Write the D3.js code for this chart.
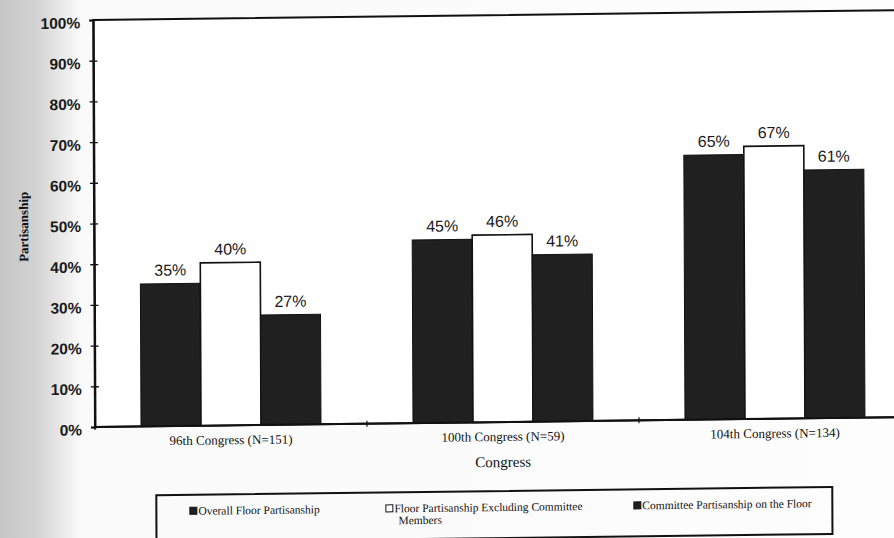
<!DOCTYPE html>
<html>
<head>
<meta charset="utf-8">
<script src="https://cdn.jsdelivr.net/npm/d3@7"></script>
<style>
  html, body { margin: 0; padding: 0; background: #fdfdfd; }
  svg { display: block; }
</style>
</head>
<body>
<svg id="chart" width="894" height="538"></svg>
<script>
// Congress groups and the three partisanship series
const congresses = ["96th Congress (N=151)", "100th Congress (N=59)", "104th Congress (N=134)"];
const seriesNames = [
  "Overall Floor Partisanship",
  "Floor Partisanship Excluding Committee Members",
  "Committee Partisanship on the Floor"
];
const overallFloor = [0.35, 0.45, 0.65];
const floorExclCommittee = [0.40, 0.46, 0.67];
const committeeOnFloor = [0.27, 0.41, 0.61];
const yTicks = [0, 0.1, 0.2, 0.3, 0.4, 0.5, 0.6, 0.7, 0.8, 0.9, 1.0];

const seriesValues = [overallFloor, floorExclCommittee, committeeOnFloor];
const seriesFill = ["#202020", "#ffffff", "#202020"];

const svg = d3.select("#chart");

// paper tone: darker strip along the binding edge
const defs = svg.append("defs");
const grad = defs.append("linearGradient").attr("id", "paper").attr("x1", 0).attr("x2", 1).attr("y1", 0).attr("y2", 0);
grad.append("stop").attr("offset", "0").attr("stop-color", "#c6c6c6");
grad.append("stop").attr("offset", "0.04").attr("stop-color", "#d2d2d2");
grad.append("stop").attr("offset", "0.065").attr("stop-color", "#e6e6e6");
grad.append("stop").attr("offset", "0.09").attr("stop-color", "#fafafa");
grad.append("stop").attr("offset", "1").attr("stop-color", "#fdfdfd");
svg.append("rect").attr("width", 894).attr("height", 538).attr("fill", "url(#paper)");

// the printed page sits slightly askew
const g = svg.append("g")
  .attr("transform", "translate(95,427) rotate(-0.25) skewY(-0.45) translate(-95,-427)");

const plotLeft = 95, plotRight = 911, plotTop = 20, plotBottom = 427;

const x = d3.scaleBand().domain(congresses).range([plotLeft, plotRight]).padding(0);
const xs = d3.scaleBand().domain(d3.range(seriesNames.length))
  .range([0, x.bandwidth()]).paddingInner(0).paddingOuter(0.767);
const y = d3.scaleLinear().domain([0, 1]).range([plotBottom, plotTop]);

// plot frame
g.append("rect")
  .attr("x", plotLeft).attr("y", plotTop)
  .attr("width", plotRight - plotLeft).attr("height", plotBottom - plotTop)
  .attr("fill", "#ffffff").attr("stroke", "#111").attr("stroke-width", 2);

// bars
congresses.forEach((c, ci) => {
  seriesValues.forEach((vals, si) => {
    const v = vals[ci];
    g.append("rect")
      .attr("x", x(c) + xs(si))
      .attr("y", y(v))
      .attr("width", xs.bandwidth())
      .attr("height", y(0) - y(v))
      .attr("fill", seriesFill[si])
      .attr("stroke", "#111")
      .attr("stroke-width", si === 1 ? 1.6 : 1);
    g.append("text")
      .attr("x", x(c) + xs(si) + xs.bandwidth() / 2)
      .attr("y", y(v) - 8)
      .attr("text-anchor", "middle")
      .attr("font-family", "Liberation Sans, Arial, sans-serif")
      .attr("font-size", 16)
      .attr("fill", "#1a1a1a")
      .text(d3.format(".0%")(v));
  });
});

// y axis
const yAxis = g.append("g").attr("transform", `translate(${plotLeft},0)`)
  .call(d3.axisLeft(y).tickValues(yTicks).tickFormat(d3.format(".0%")).tickSize(4).tickPadding(10));
yAxis.select(".domain").attr("stroke", "#111").attr("stroke-width", 2);
yAxis.selectAll(".tick line").attr("stroke", "#111").attr("stroke-width", 1.3).attr("x2", 4).attr("x1", -4);
yAxis.selectAll(".tick text")
  .attr("font-family", "Liberation Sans, Arial, sans-serif")
  .attr("font-size", 15.5).attr("font-weight", "bold").attr("fill", "#1a1a1a")
  .attr("dy", "0.5em").attr("x", -13);

// x axis: ticks on the band boundaries, labels under band centres
const xAxis = g.append("g").attr("transform", `translate(0,${plotBottom})`);
xAxis.append("line").attr("x1", plotLeft).attr("x2", plotRight).attr("stroke", "#111").attr("stroke-width", 2);
x.domain().forEach(c => {
  xAxis.append("line").attr("x1", x(c)).attr("x2", x(c)).attr("y1", -3).attr("y2", 3)
    .attr("stroke", "#111").attr("stroke-width", 1.2);
  xAxis.append("text")
    .attr("x", x(c) + x.bandwidth() / 2).attr("y", 19)
    .attr("text-anchor", "middle")
    .attr("font-family", "Liberation Serif, Times New Roman, serif")
    .attr("font-size", 13).attr("fill", "#111")
    .text(c);
});

// axis titles
g.append("text")
  .attr("x", (plotLeft + plotRight) / 2).attr("y", 472)
  .attr("text-anchor", "middle")
  .attr("font-family", "Liberation Serif, Times New Roman, serif")
  .attr("font-size", 15).attr("fill", "#111")
  .text("Congress");
g.append("text")
  .attr("transform", "translate(29,226) rotate(-90)")
  .attr("text-anchor", "middle")
  .attr("font-family", "Liberation Serif, Times New Roman, serif")
  .attr("font-size", 13).attr("font-weight", "bold").attr("fill", "#111")
  .text("Partisanship");

// legend
const legend = g.append("g");
legend.append("rect")
  .attr("x", 156).attr("y", 496).attr("width", 676).attr("height", 47)
  .attr("fill", "none").attr("stroke", "#111").attr("stroke-width", 2);
const legendX = [189, 385, 633];
seriesNames.forEach((name, i) => {
  const item = legend.append("g").attr("transform", `translate(${legendX[i]},516)`);
  item.append("rect").attr("x", 0.5).attr("y", -7.5).attr("width", 7).attr("height", 7)
    .attr("fill", seriesFill[i]).attr("stroke", "#111").attr("stroke-width", 1);
  const t = item.append("text")
    .attr("font-family", "Liberation Serif, Times New Roman, serif")
    .attr("font-size", 11.5).attr("fill", "#111");
  // wrap long labels onto a second line
  const words = name.split(" ");
  let line = [], tspan = t.append("tspan").attr("x", 9).attr("y", 0);
  let lineNo = 0;
  words.forEach(w => {
    line.push(w);
    tspan.text(line.join(" "));
    if (tspan.node().getComputedTextLength() > 215 && line.length > 1) {
      line.pop();
      tspan.text(line.join(" "));
      line = [w];
      lineNo += 1;
      tspan = t.append("tspan").attr("x", 13).attr("y", lineNo * 12).text(w);
    }
  });
});
</script>
</body>
</html>
